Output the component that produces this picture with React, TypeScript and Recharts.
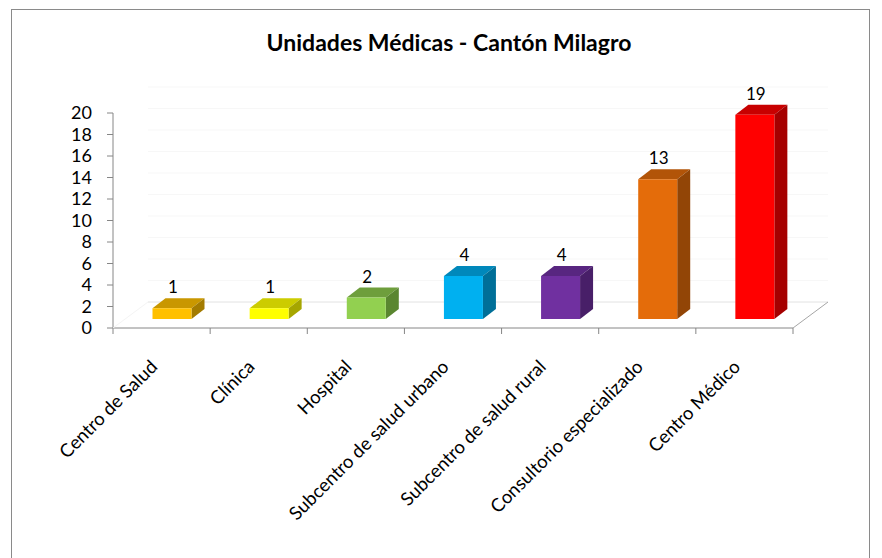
import React from 'react';
import { BarChart, Bar, XAxis, YAxis, CartesianGrid, LabelList } from 'recharts';

// values
const categories = [
  'Centro de Salud',
  'Clínica',
  'Hospital',
  'Subcentro de salud urbano',
  'Subcentro de salud rural',
  'Consultorio especializado',
  'Centro Médico',
];
const unidades = [1, 1, 2, 4, 4, 13, 19];
const yTicks = [0, 2, 4, 6, 8, 10, 12, 14, 16, 18, 20];

// front / top / side faces of each 3D column
const frontColors = ['#FFC000', '#FFFF00', '#92D050', '#00B0F0', '#7030A0', '#E46C0A', '#FF0000'];
const topColors = ['#C99700', '#CCCC00', '#6E9E3C', '#0088BB', '#582680', '#B25408', '#C80000'];
const sideColors = ['#A37B00', '#A6A600', '#5A8630', '#006F98', '#481F68', '#924506', '#A50000'];

const data = categories.map((name, i) => ({ name, value: unidades[i] }));

const FONT = 'Lato, "Open Sans", sans-serif';
const AXIS = '#868686';
const BAND = 680 / categories.length; // width of one category slot
const FLOOR_DX = 35; // depth of the 3D floor
const FLOOR_DY = 26;
const BAR_DX = 10.5; // columns sit a little back on the floor
const BAR_DY = 9;
const SIDE_DX = 13; // depth of each column
const SIDE_DY = 10;

const Column3D = (props: any) => {
  const { x, y, width, height, index } = props;
  if (height == null || width == null) return null;
  const fx = x + BAR_DX;
  const fy = y - BAR_DY;
  const bottom = fy + height;
  const rx = fx + width;
  return (
    <g>
      <polygon
        points={`${fx},${fy} ${fx + SIDE_DX},${fy - SIDE_DY} ${rx + SIDE_DX},${fy - SIDE_DY} ${rx},${fy}`}
        fill={topColors[index]}
      />
      <polygon
        points={`${rx},${fy} ${rx + SIDE_DX},${fy - SIDE_DY} ${rx + SIDE_DX},${bottom - SIDE_DY} ${rx},${bottom}`}
        fill={sideColors[index]}
      />
      <rect x={fx} y={fy} width={width} height={height} fill={frontColors[index]} />
    </g>
  );
};

const renderValueLabel = (props: any) => {
  const { x, y, width, value } = props;
  return (
    <text
      x={Number(x) + BAR_DX + Number(width) / 2 + 1}
      y={Number(y) - BAR_DY - SIDE_DY - 5}
      textAnchor="middle"
      fontFamily={FONT}
      fontSize={17}
      fill="#000"
    >
      {value}
    </text>
  );
};

const CategoryTick = (props: any) => {
  const { x, y, payload, index } = props;
  const half = BAND / 2;
  const last = index === categories.length - 1;
  const tx = x - 3;
  const ty = y + 40;
  return (
    <g>
      <line x1={x - half} y1={y} x2={x - half} y2={y + 6} stroke={AXIS} />
      {last && <line x1={x + half} y1={y} x2={x + half} y2={y + 6} stroke={AXIS} />}
      {last && (
        <line x1={x + half} y1={y} x2={x + half + FLOOR_DX} y2={y - FLOOR_DY} stroke="#a6a6a6" />
      )}
      {index === 0 && (
        <line x1={x - half} y1={y} x2={x - half + FLOOR_DX} y2={y - FLOOR_DY} stroke="#f4f4f4" />
      )}
      <text
        x={tx}
        y={ty}
        transform={`rotate(-45, ${tx}, ${ty})`}
        textAnchor="end"
        fontFamily={FONT}
        fontSize={18.5}
        fill="#000"
      >
        {payload.value}
      </text>
    </g>
  );
};

// gridlines live on the back wall, pushed back by the floor depth
const backWallLine = (p: any) => (
  <line
    key={p.key ?? `${p.y1}`}
    x1={p.x1 + FLOOR_DX}
    y1={p.y1 - FLOOR_DY}
    x2={p.x2 + FLOOR_DX}
    y2={p.y2 - FLOOR_DY}
    stroke={p.y1 > 320 ? '#e2e2e2' : '#f7f7f7'}
    strokeWidth={1}
  />
);

export default function App() {
  return (
    <div style={{ position: 'relative', width: 882, height: 558, overflow: 'hidden', background: '#fff' }}>
      <style>{'body{margin:0}'}</style>
      <div
        style={{
          position: 'absolute',
          left: 11,
          top: 9,
          width: 857,
          height: 560,
          border: '1px solid #8a8a8a',
        }}
      />
      <div
        style={{
          position: 'absolute',
          left: 229,
          top: 28,
          width: 440,
          textAlign: 'center',
          fontFamily: FONT,
          fontWeight: 700,
          fontSize: 23,
          lineHeight: '28px',
          color: '#000',
        }}
      >
        Unidades Médicas - Cantón Milagro
      </div>
      <div style={{ position: 'absolute', left: 0, top: 0 }}>
        <BarChart
          width={882}
          height={558}
          data={data}
          margin={{ top: 113, right: 89, left: 0, bottom: 30 }}
        >
          <CartesianGrid vertical={false} horizontal={backWallLine} />
          <XAxis
            dataKey="name"
            interval={0}
            height={200}
            tickSize={0}
            tickMargin={0}
            tickLine={false}
            axisLine={{ stroke: AXIS }}
            tick={(p: any) => <CategoryTick {...p} />}
          />
          <YAxis
            domain={[0, 20]}
            ticks={yTicks}
            interval={0}
            width={113}
            tickSize={6}
            tickMargin={15}
            axisLine={{ stroke: AXIS }}
            tickLine={{ stroke: AXIS }}
            tick={{ fontFamily: FONT, fontSize: 18, fill: '#000' }}
          />
          <Bar dataKey="value" barSize={39} shape={Column3D} isAnimationActive={false}>
            <LabelList dataKey="value" content={renderValueLabel} />
          </Bar>
        </BarChart>
      </div>
    </div>
  );
}
